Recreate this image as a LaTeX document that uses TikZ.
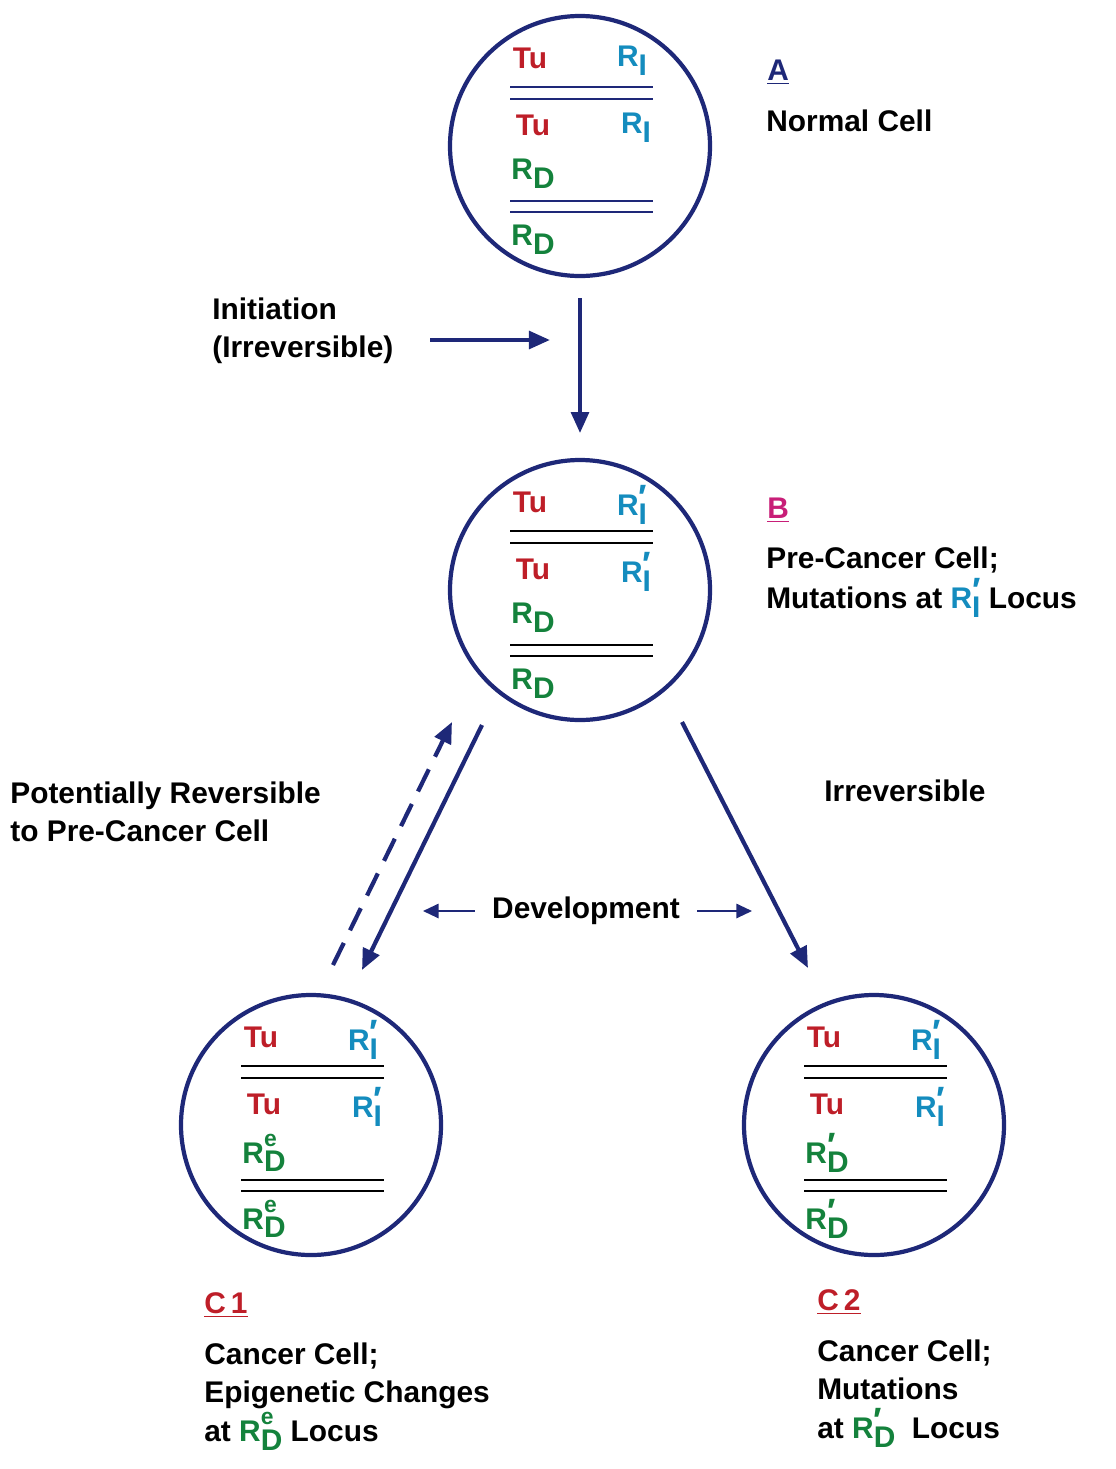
\documentclass[tikz,border=0pt]{standalone}
\usepackage{fontspec}
\setmainfont{Liberation Sans}
\usetikzlibrary{arrows.meta, positioning}
\definecolor{navy}{RGB}{30,40,120}
\definecolor{tured}{RGB}{190,30,40}
\definecolor{riblue}{RGB}{20,140,190}
\definecolor{rdgreen}{RGB}{20,130,60}
\definecolor{bmag}{RGB}{200,30,120}
\newcommand{\Rsub}[2]{R\makebox[0pt][l]{\raisebox{1.05ex}{\fontsize{13}{13}\selectfont #2}}\raisebox{-0.55ex}{#1}}
\newcommand{\pr}{\raisebox{-0.9ex}{\fontsize{20}{20}\selectfont\char"2032}}
\newcommand{\cellbody}[6]{%
  \begin{scope}[shift={(#2,#3)}]
    \node[cell] (#1) at (0,0) {};
    \node[lbl, tured] (#1tu1) at (-1.0,1.76) {Tu};
    \node[lbl, riblue] (#1ri1) at (1.04,1.7) {\Rsub{I}{#4}};
    \node[lbl, tured] (#1tu2) at (-0.94,0.42) {Tu};
    \node[lbl, riblue] (#1ri2) at (1.12,0.36) {\Rsub{I}{#4}};
    \node[lbl, rdgreen] (#1rd1) at (-0.94,-0.56) {\Rsub{D}{#5}};
    \node[lbl, rdgreen] (#1rd2) at (-0.94,-1.88) {\Rsub{D}{#5}};
    \draw[#6, line width=1.3pt] (-1.4,1.18) -- (1.46,1.18) (-1.4,0.94) -- (1.46,0.94)
      (-1.4,-1.1) -- (1.46,-1.1) (-1.4,-1.32) -- (1.46,-1.32);
  \end{scope}}
\begin{document}
\begin{tikzpicture}[
    cell/.style={circle, draw=navy, line width=2.4pt, minimum size=5.2cm, inner sep=0pt},
    lbl/.style={font=\fontsize{17}{22}\selectfont\bfseries, inner sep=0pt},
    txt/.style={font=\fontsize{17}{22}\selectfont\bfseries, anchor=west, inner sep=0pt, align=left},
    flow/.style={draw=navy, line width=2.4pt, -{Triangle[length=12pt, width=10pt]}}]
\useasboundingbox (0,0) rectangle (22.32,-29.38);

\cellbody{A}{11.6}{-2.92}{}{}{navy}
\cellbody{B}{11.6}{-11.8}{\pr}{}{black}
\cellbody{Ca}{6.22}{-22.5}{\pr}{e}{black}
\cellbody{Cb}{17.48}{-22.5}{\pr}{\pr}{black}

% Labels
\node[txt, navy] (labA) at (15.34,-1.44) {\underline{A}};
\node[txt] (nameA) at (15.32,-2.42) {Normal Cell};
\node[txt, bmag] (labB) at (15.34,-10.2) {\underline{B}};
\node[txt] (nameB) at (15.32,-11.2) {Pre-Cancer Cell;};
\node[txt] (mutB) at (15.32,-11.96) {Mutations at \textcolor{riblue}{\Rsub{I}{\pr}} Locus};
\node[txt, tured] (labCa) at (4.08,-26.1) {\underline{C\,1}};
\node[txt, anchor=north west] (nameCa) at (4.08,-26.84) {Cancer Cell;\\Epigenetic Changes\\at \textcolor{rdgreen}{\Rsub{D}{e}} Locus};
\node[txt, tured] (labCb) at (16.34,-26.04) {\underline{C\,2}};
\node[txt, anchor=north west] (nameCb) at (16.34,-26.78) {Cancer Cell;\\Mutations\\at \textcolor{rdgreen}{\Rsub{D}{\pr}}\ \ Locus};
\node[txt, anchor=north west] (init) at (4.24,-5.94) {Initiation\\(Irreversible)};
\node[txt, anchor=north west] (potrev) at (0.2,-15.62) {Potentially Reversible\\to Pre-Cancer Cell};
\node[txt] (irrev) at (16.48,-15.82) {Irreversible};
\node[lbl] (devel) at (11.72,-18.22) {Development};

% Arrows
\coordinate (initS) at (8.6,-6.8);
\coordinate (initE) at (11.0,-6.8);
\draw[flow] (initS) -- (initE);
\draw[flow] ([yshift=-0.4cm]A.south) -- ([yshift=-3.1cm]A.south);
\coordinate (dashS) at (6.66,-19.3);
\coordinate (dashE) at (9.04,-14.44);
\draw[flow, dash pattern=on 14pt off 8pt] (dashS) -- (dashE);
\coordinate (leftS) at (9.64,-14.5);
\coordinate (leftE) at (7.24,-19.4);
\draw[flow] (leftS) -- (leftE);
\coordinate (rightS) at (13.64,-14.44);
\coordinate (rightE) at (16.16,-19.36);
\draw[flow] (rightS) -- (rightE);
\draw[flow, line width=1.6pt, -{Triangle[length=9pt, width=8pt]}] ([xshift=-0.34cm]devel.west) -- ++(-1.04,0);
\draw[flow, line width=1.6pt, -{Triangle[length=9pt, width=8pt]}] ([xshift=0.34cm]devel.east) -- ++(1.1,0);
\end{tikzpicture}
\end{document}
